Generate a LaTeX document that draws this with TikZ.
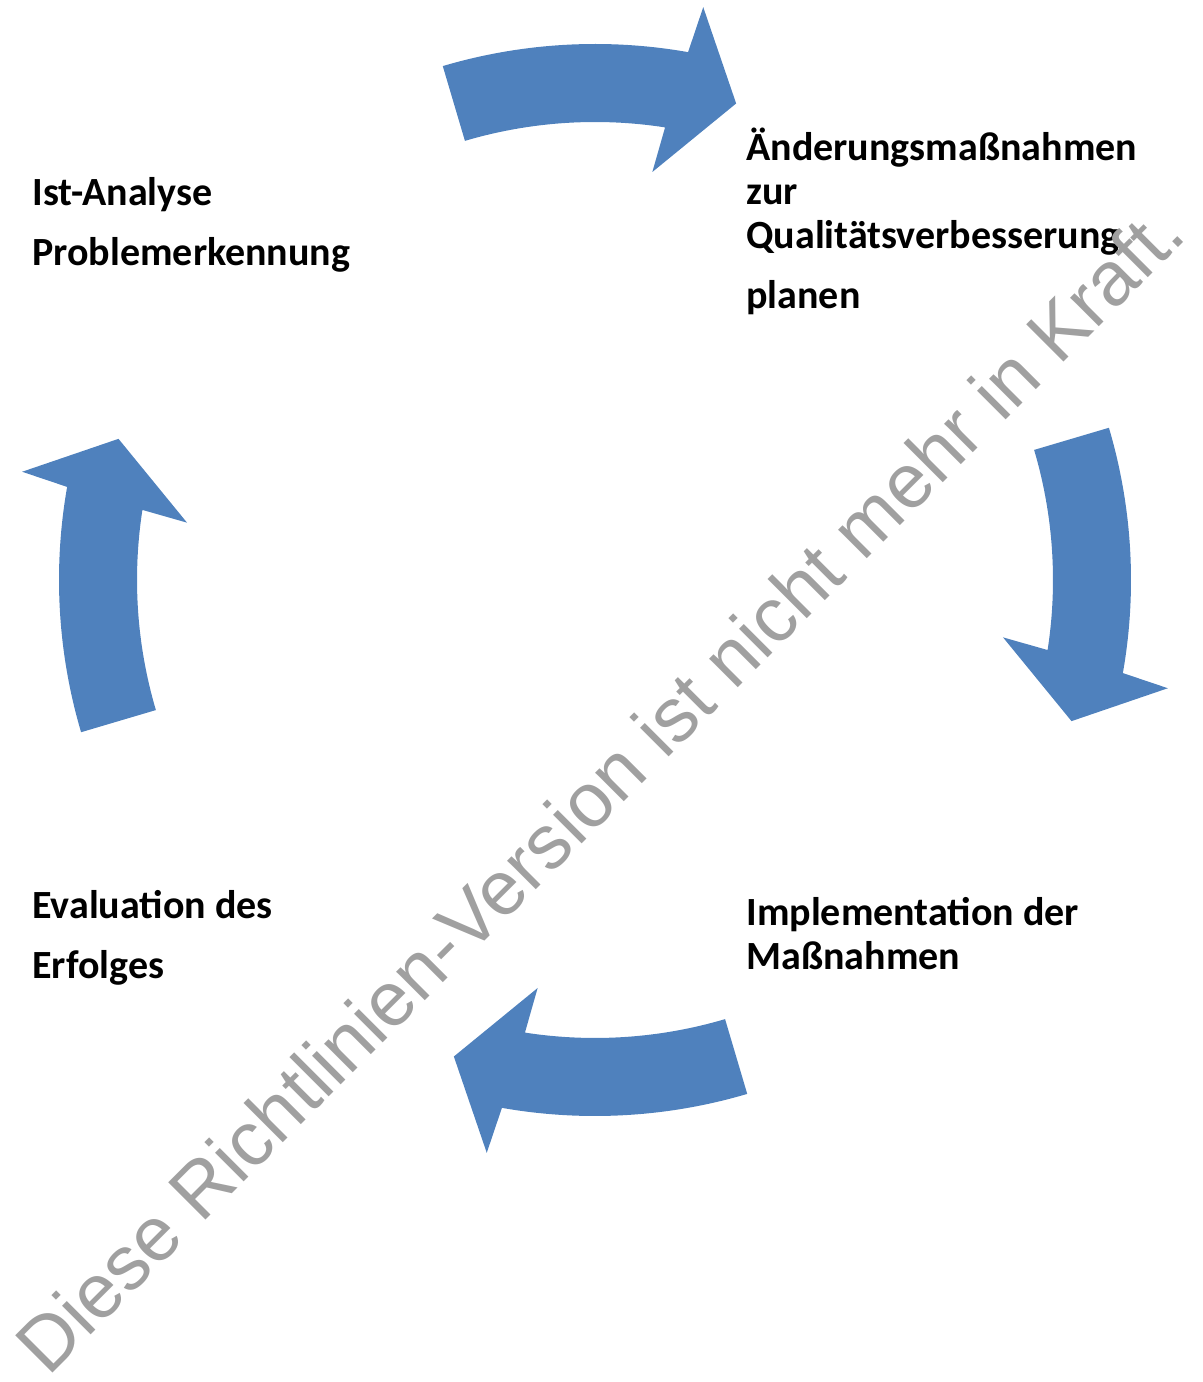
\documentclass[tikz,border=0pt]{standalone}
\usepackage{fontspec}
\setmainfont{Carlito}
\newfontfamily\wmfont{Liberation Sans}
\definecolor{arrowblue}{HTML}{4F81BD}
\definecolor{wmgray}{RGB}{160,160,160}
\begin{document}
\begin{tikzpicture}[x=0.5pt, y=0.5pt, cyclearrow/.style={fill=arrowblue}, steptext/.style={anchor=base west, inner sep=0pt, align=left, font=\bfseries\fontsize{20}{22}\selectfont}, watermark/.style={anchor=base west, inner sep=0pt, text=wmgray, rotate=45, font=\wmfont\fontsize{38.3}{40}\selectfont}]
	\useasboundingbox (0,0) rectangle (1203,1382);
	\foreach \c in {90,0,-90,180}
	\fill[cyclearrow, shift={(595,802)}] (\c+16.5:536) arc[start angle=\c+16.5, end angle=\c-10, radius=536] -- (\c-10.7:583) -- (\c-16.5:497) -- (\c-8:412) -- (\c-8.8:458) arc[start angle=\c-8.8, end angle=\c+16.5, radius=458] -- cycle;
	\node[steptext] (T1) at (32, 1116) {Ist-Analyse\\[8pt]Problemerkennung};
	\node[steptext] (T2) at (746, 1073) {Änderungsmaßnahmen\\zur\\Qualitätsverbesserung\\[8pt]planen};
	\node[steptext] (T3) at (746, 412) {Implementation der\\Maßnahmen};
	\node[steptext] (T4) at (32, 403) {Evaluation des\\[8pt]Erfolges};
	\node[watermark] (W) at (48, 4) {Diese Richtlinien-Version ist nicht mehr in Kraft.};
\end{tikzpicture}
\end{document}
